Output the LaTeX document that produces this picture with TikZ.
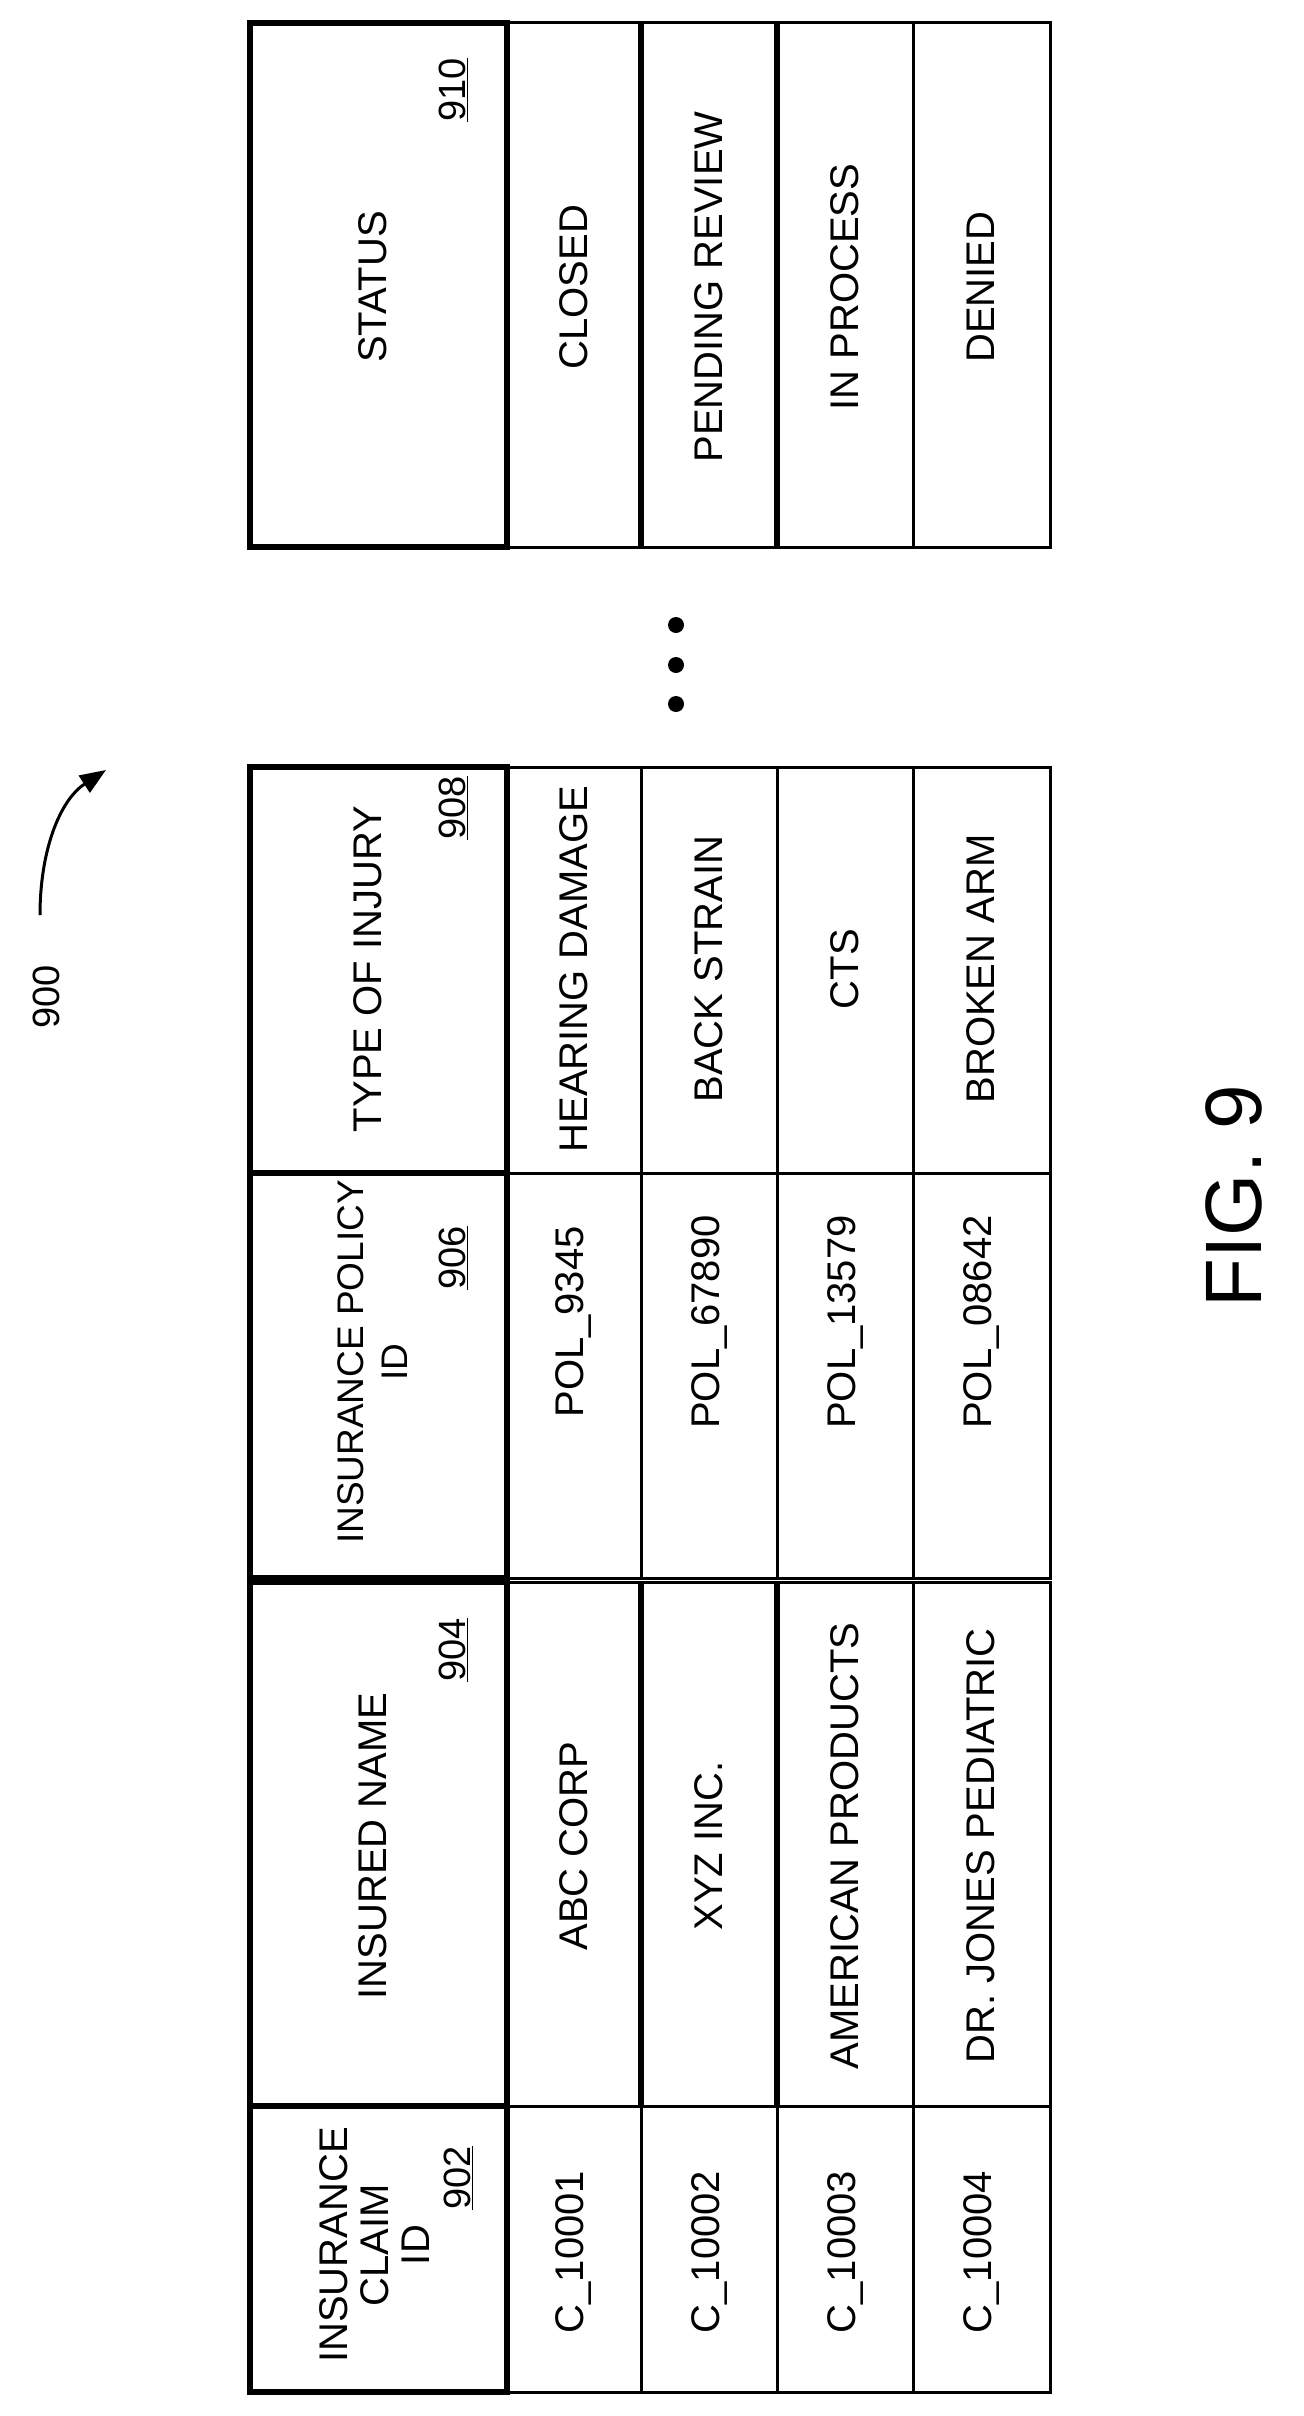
\documentclass[tikz,border=0pt]{standalone}
\usepackage{fontspec}
\setmainfont{Liberation Sans}
\usetikzlibrary{arrows.meta}
\begin{document}
\begin{tikzpicture}[x=1pt,y=-1pt,
  thin line/.style={line width=3pt},
  thick line/.style={line width=6pt},
  txt/.style={rotate=90,font=\fontsize{40}{46}\selectfont,align=center,inner sep=0pt},
  ref/.style={rotate=90,font=\fontsize{38}{44}\selectfont,inner sep=0pt}]
\useasboundingbox (0,0) rectangle (1303,2416);
\newcommand{\ul}[1]{\underline{#1}}
% ---- status table
\draw[thin line] (250,23) rectangle (1050,547);
\draw[thin line] (913,23) -- (913,547);
\draw[thick line] (641,23) -- (641,547) (777,23) -- (777,547);
\draw[thick line] (250,23) rectangle (507,547);
\node[txt] (s0) at (373,287) {STATUS};
\node[ref] (s0r) at (453,90) {\ul{910}};
\node[txt] (s1) at (574,287) {CLOSED};
\node[txt] (s2) at (709,287) {PENDING REVIEW};
\node[txt] (s3) at (845,287) {IN PROCESS};
\node[txt] (s4) at (981,287) {DENIED};
% dots
\fill (676,625) circle (8) (676,665) circle (8) (676,704) circle (8);
% ---- injury + policy table
\draw[thin line] (250,767) rectangle (1050,1578);
\draw[thin line] (250,1173) -- (1050,1173);
\draw[thin line] (641,767) -- (641,1578) (777,767) -- (777,1578) (913,767) -- (913,1578);
\draw[thick line] (250,767) rectangle (507,1173);
\draw[thick line] (250,1173) rectangle (507,1578);
\node[txt] (t0) at (368,969) {TYPE OF INJURY};
\node[ref] (t0r) at (453,808) {\ul{908}};
\node[txt,font=\fontsize{37}{44}\selectfont] (p0) at (373,1362) {INSURANCE POLICY\\ID};
\node[ref] (p0r) at (453,1258) {\ul{906}};
\node[txt] (t1) at (574,969) {HEARING DAMAGE};
\node[txt] (t2) at (709,969) {BACK STRAIN};
\node[txt] (t3) at (845,969) {CTS};
\node[txt] (t4) at (981,969) {BROKEN ARM};
\node[txt] (p1) at (574,1322) {POL\_9345};
\node[txt] (p2) at (709,1322) {POL\_67890};
\node[txt] (p3) at (845,1322) {POL\_13579};
\node[txt] (p4) at (981,1322) {POL\_08642};
% ---- name + claim table
\draw[thin line] (250,1582) rectangle (1050,2392);
\draw[thin line] (250,2106) -- (1050,2106);
\draw[thick line] (641,1582) -- (641,2106) (777,1582) -- (777,2106);
\draw[thin line] (913,1582) -- (913,2106);
\draw[thin line] (641,2106) -- (641,2392) (777,2106) -- (777,2392) (913,2106) -- (913,2392);
\draw[thick line] (250,1582) rectangle (507,2106);
\draw[thick line] (250,2106) rectangle (507,2392);
\node[txt] (n0) at (373,1846) {INSURED NAME};
\node[ref] (n0r) at (453,1650) {\ul{904}};
\node[txt] (n1) at (574,1846) {ABC CORP};
\node[txt] (n2) at (709,1846) {XYZ INC.};
\node[txt] (n3) at (845,1846) {AMERICAN PRODUCTS};
\node[txt] (n4) at (981,1846) {DR. JONES PEDIATRIC};
\node[txt,font=\fontsize{40}{41}\selectfont] (c0) at (375,2245) {INSURANCE\\CLAIM\\ID};
\node[ref] (c0r) at (458,2178) {\ul{902}};
\node[txt] (c1) at (574,2252) {C\_10001};
\node[txt] (c2) at (709,2252) {C\_10002};
\node[txt] (c3) at (845,2252) {C\_10003};
\node[txt] (c4) at (981,2252) {C\_10004};
% ---- label 900 and arrow
\node[ref] (lbl) at (46,997) {900};
\coordinate (as) at (40,915);
\coordinate (ae) at (106,770);
\draw[line width=3pt,-{Triangle[length=26pt,width=20pt]}] (as) .. controls (40,850) and (60,800) .. (ae);
% ---- figure label
\node[rotate=90,font=\fontsize{80}{86}\selectfont,inner sep=0pt] (fig) at (1234,1196) {FIG. 9};
\end{tikzpicture}
\end{document}
